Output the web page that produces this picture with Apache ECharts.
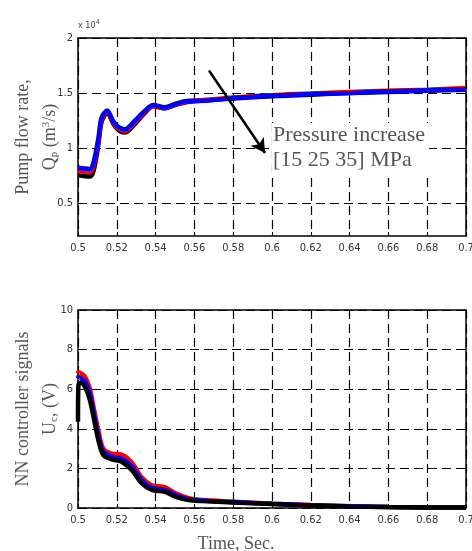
<!DOCTYPE html>
<html>
<head>
<meta charset="utf-8">
<script src="https://cdn.jsdelivr.net/npm/echarts@6/dist/echarts.min.js"></script>
<style>
html, body { margin: 0; padding: 0; background: #fff; }
#chart { width: 472px; height: 551px; }
</style>
</head>
<body>
<div id="chart"></div>
<script>
// pump flow rate, values in x10^4 m3/s
var timeQ = [0.5, 0.506, 0.508, 0.5105, 0.5122, 0.5151, 0.5182, 0.521, 0.5242, 0.5294, 0.5345, 0.5388,
    0.5448, 0.55, 0.557, 0.564, 0.58, 0.6, 0.62, 0.64, 0.66, 0.68, 0.7];
var flowBlack = [0.755, 0.74, 0.79, 1.03, 1.24, 1.32, 1.22, 1.16, 1.14, 1.22, 1.32, 1.38,
    1.36, 1.39, 1.42, 1.43, 1.45, 1.47, 1.485, 1.50, 1.51, 1.52, 1.53];
var flowRed = [0.79, 0.78, 0.84, 1.06, 1.26, 1.33, 1.23, 1.175, 1.155, 1.235, 1.33, 1.385,
    1.365, 1.395, 1.425, 1.435, 1.46, 1.48, 1.495, 1.51, 1.52, 1.53, 1.545];
var flowBlue = [0.82, 0.81, 0.87, 1.09, 1.28, 1.34, 1.24, 1.19, 1.17, 1.25, 1.34, 1.39,
    1.37, 1.40, 1.43, 1.43, 1.455, 1.475, 1.49, 1.50, 1.515, 1.525, 1.535];
var flowTicks = [0.5, 1, 1.5, 2];

// NN controller signals, V
var timeU = [0.5, 0.5002, 0.5015, 0.5036, 0.506, 0.508, 0.5105, 0.513, 0.5174, 0.5225, 0.5277, 0.5328,
    0.538, 0.5448, 0.55, 0.557, 0.564, 0.58, 0.6, 0.62, 0.64, 0.66, 0.68, 0.7];
var ucBlack = [4.36, 6.2, 6.33, 6.13, 5.5, 4.61, 3.43, 2.68, 2.46, 2.34, 1.92, 1.25,
    0.91, 0.82, 0.57, 0.4, 0.35, 0.28, 0.2, 0.13, 0.08, 0.05, 0.03, 0.02];
var ucBlue = [6.55, 6.6, 6.55, 6.4, 5.8, 4.85, 3.65, 2.85, 2.6, 2.5, 2.1, 1.4,
    1.02, 0.92, 0.66, 0.45, 0.38, 0.3, 0.21, 0.14, 0.09, 0.05, 0.03, 0.02];
var ucRed = [6.8, 6.85, 6.8, 6.63, 6.05, 5.1, 3.9, 3.0, 2.75, 2.7, 2.3, 1.55,
    1.15, 1.05, 0.75, 0.5, 0.4, 0.32, 0.22, 0.15, 0.09, 0.05, 0.03, 0.02];

// arrow "Pressure increase" (data coords of upper chart)
var arrowFrom = [0.5675, 1.705];
var arrowTo = [0.5964, 0.955];

function pairs(t, v) {
    return t.map(function (x, i) { return [x, v[i]]; });
}

var tickFont = "'Liberation Sans Narrow','DejaVu Sans Condensed',sans-serif";
var serif = "'Liberation Serif','Times New Roman',serif";
var dash = { color: '#000', width: 1.2, type: [9, 5] };

function xAx(grid, pos) {
    return {
        type: 'value', gridIndex: grid, position: pos, min: 0.5, max: 0.7, interval: 0.02,
        axisLine: { show: true, onZero: false, lineStyle: { color: '#000', width: 1.5 } },
        axisTick: { show: true, inside: true, length: 4, lineStyle: { color: '#000' } },
        axisLabel: { show: pos === 'bottom', margin: 7, color: '#333', fontSize: 11, fontFamily: tickFont },
        splitLine: { show: pos === 'bottom', lineStyle: dash }
    };
}

function line(name, xi, data, color) {
    return {
        name: name, type: 'line', xAxisIndex: xi, yAxisIndex: xi, data: data,
        showSymbol: false, smooth: 0.3, lineStyle: { color: color, width: 4.5 }, itemStyle: { color: color },
        animation: false
    };
}

var myChart = echarts.init(document.getElementById('chart'));
var option = {
    backgroundColor: '#fff',
    animation: false,
    grid: [
        { left: 78, top: 38, width: 388, height: 198, show: false, containLabel: false, outerBoundsMode: 'none' },
        { left: 78, top: 310, width: 388, height: 198, show: false, containLabel: false, outerBoundsMode: 'none' }
    ],
    xAxis: [xAx(0, 'bottom'), xAx(1, 'bottom'), xAx(0, 'top'), xAx(1, 'top')],
    yAxis: [
        {
            type: 'value', gridIndex: 0, min: 0.2, max: 2,
            name: 'Pump flow rate,\n{t|Q}{sub|p}{t| (m}{sup|3}{t|/s)}',
            nameLocation: 'middle', nameGap: 14, nameRotate: 90, nameMoveOverlap: false,
            nameTextStyle: {
                color: '#555', fontFamily: serif, fontSize: 18, lineHeight: 27,
                rich: {
                    t: { color: '#555', fontFamily: serif, fontSize: 18 },
                    sub: { color: '#555', fontFamily: serif, fontSize: 11, padding: [8, 0, 0, 0] },
                    sup: { color: '#555', fontFamily: serif, fontSize: 11, padding: [0, 0, 8, 0] }
                }
            },
            axisLine: { show: true, onZero: false, lineStyle: { color: '#000', width: 1.5 } },
            axisTick: { show: true, inside: true, length: 4, customValues: flowTicks, lineStyle: { color: '#000' } },
            axisLabel: { margin: 5, color: '#333', fontSize: 11, fontFamily: tickFont, customValues: flowTicks },
            splitLine: { show: true, lineStyle: dash }
        },
        {
            type: 'value', gridIndex: 1, min: 0, max: 10, interval: 2,
            name: 'NN controller signals\n{t|U}{sub|c}{t|, (V)}',
            nameLocation: 'middle', nameGap: 14, nameRotate: 90, nameMoveOverlap: false,
            nameTextStyle: {
                color: '#555', fontFamily: serif, fontSize: 18, lineHeight: 27,
                rich: {
                    t: { color: '#555', fontFamily: serif, fontSize: 18 },
                    sub: { color: '#555', fontFamily: serif, fontSize: 11, padding: [8, 0, 0, 0] }
                }
            },
            axisLine: { show: true, onZero: false, lineStyle: { color: '#000', width: 1.5 } },
            axisTick: { show: true, inside: true, length: 4, lineStyle: { color: '#000' } },
            axisLabel: { margin: 5, color: '#333', fontSize: 11, fontFamily: tickFont },
            splitLine: { show: true, lineStyle: dash }
        },
        {
            type: 'value', gridIndex: 0, position: 'right', min: 0.2, max: 2,
            axisLine: { show: true, onZero: false, lineStyle: { color: '#000', width: 1.5 } },
            axisTick: { show: true, inside: true, length: 4, customValues: flowTicks, lineStyle: { color: '#000' } },
            axisLabel: { show: false }, splitLine: { show: false }
        },
        {
            type: 'value', gridIndex: 1, position: 'right', min: 0, max: 10, interval: 2,
            axisLine: { show: true, onZero: false, lineStyle: { color: '#000', width: 1.5 } },
            axisTick: { show: true, inside: true, length: 4, lineStyle: { color: '#000' } },
            axisLabel: { show: false }, splitLine: { show: false }
        }
    ],
    series: [
        line('15 MPa', 0, pairs(timeQ, flowBlack), '#000'),
        line('25 MPa', 0, pairs(timeQ, flowRed), '#ff0000'),
        (function () {
            var s = line('35 MPa', 0, pairs(timeQ, flowBlue), '#0000ff');
            s.markLine = {
                silent: true, animation: false,
                symbol: ['none', 'arrow'], symbolSize: [12, 14],
                label: { show: false },
                lineStyle: { color: '#000', width: 2.5, type: 'solid' },
                data: [[{ coord: arrowFrom }, { coord: arrowTo }]]
            };
            return s;
        })(),
        line('25 MPa', 1, pairs(timeU, ucRed), '#ff0000'),
        line('35 MPa', 1, pairs(timeU, ucBlue), '#0000ff'),
        line('15 MPa', 1, pairs(timeU, ucBlack), '#000')
    ],
    graphic: [
        {
            type: 'text', left: 272, top: 123, z: 50,
            style: {
                text: 'Pressure increase\n[15 25 35] MPa', fill: '#555', font: '22px ' + serif,
                lineHeight: 25, backgroundColor: '#fff', padding: [0, 4, 0, 1]
            }
        },
        {
            type: 'text', left: 78, top: 19, z: 50,
            style: {
                text: '{a|x 10}{b|4}',
                rich: {
                    a: { fill: '#444', fontSize: 9, fontFamily: tickFont },
                    b: { fill: '#444', fontSize: 7, fontFamily: tickFont, padding: [0, 0, 6, 0] }
                }
            }
        },
        {
            type: 'text', left: 'center', top: 535, z: 50,
            style: { text: 'Time, Sec.', fill: '#555', font: '18px ' + serif }
        }
    ]
};
myChart.setOption(option);
window.onresize = myChart.resize;
</script>
</body>
</html>
